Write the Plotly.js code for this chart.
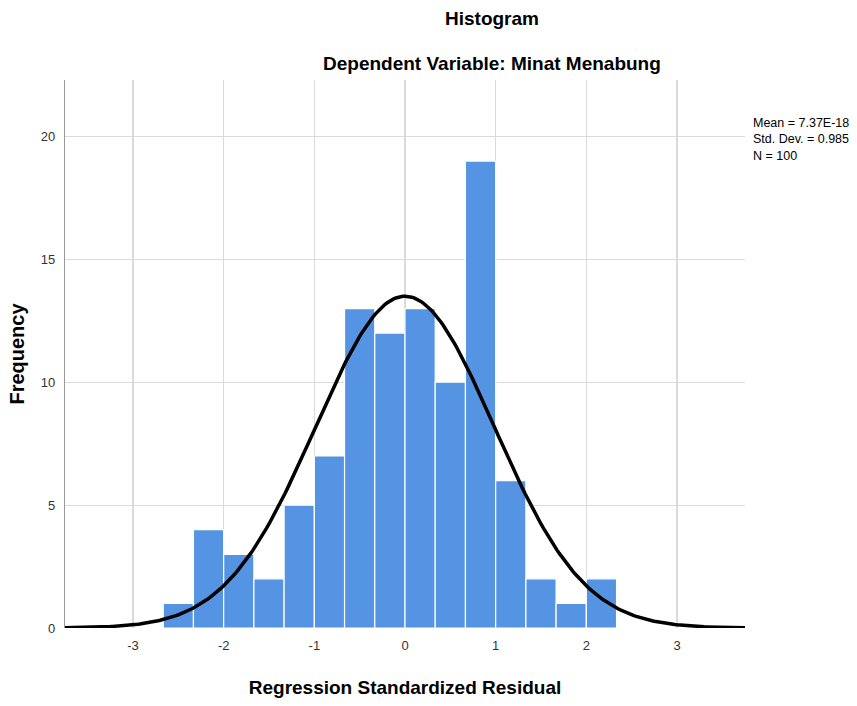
<!DOCTYPE html>
<html><head><meta charset="utf-8">
<script src="https://cdn.plot.ly/plotly-3.0.1.min.js"></script>
<style>html,body{margin:0;padding:0;background:#fff}#chart{width:857px;height:706px}</style>
</head><body><div id="chart"></div>
<script>
// Histogram bins (Regression Standardized Residual), bin width 1/3
var binStart = -8/3;
var binWidth = 1/3;
var frequencies = [1, 4, 3, 2, 5, 7, 13, 12, 13, 10, 19, 6, 2, 1, 2];
// Summary statistics shown in the chart
var meanValue = 7.37e-18;
var stdDev = 0.985;
var nCount = 100;
var xTicks = [-3, -2, -1, 0, 1, 2, 3];
var yTicks = [0, 5, 10, 15, 20];

var binCenters = frequencies.map(function(_, i){ return binStart + binWidth*(i+0.5); });

// Normal density curve scaled to counts, defined by the stated mean / SD / N
var curveX = [], curveY = [];
for (var k = 0; k <= 300; k++) {
  var x = -3.75 + 7.5*k/300;
  var z = (x - meanValue)/stdDev;
  curveX.push(x);
  curveY.push(nCount*binWidth*Math.exp(-0.5*z*z)/(stdDev*Math.sqrt(2*Math.PI)));
}

var traces = [
  {type:'bar', x:binCenters, y:frequencies, width:binWidth,
   marker:{color:'#5594E3', line:{color:'#ffffff', width:1.2}}, hoverinfo:'x+y'},
  {type:'scatter', mode:'lines', x:curveX, y:curveY,
   line:{color:'#000000', width:3.5}, hoverinfo:'skip', cliponaxis:false}
];

var font = 'Liberation Sans, Arial, sans-serif';
var layout = {
  width:857, height:706,
  margin:{l:65, r:112, t:80, b:78},
  paper_bgcolor:'#ffffff', plot_bgcolor:'#ffffff',
  showlegend:false, bargap:0,
  font:{family:font, color:'#333333'},
  xaxis:{range:[-3.75, 3.75], tickvals:xTicks, ticktext:xTicks.map(String),
    showgrid:true, gridcolor:'#dadada', gridwidth:1.2, zeroline:false,
    showline:false, ticks:'', tickfont:{size:13, color:'#333333'},
    ticklabelstandoff:8,
    title:{text:'<b>Regression Standardized Residual</b>', font:{size:19, color:'#000000'}, standoff:28}},
  yaxis:{range:[0, 22.3], tickvals:yTicks, ticktext:yTicks.map(String),
    showgrid:true, gridcolor:'#dadada', gridwidth:1.2, zeroline:false,
    showline:true, linecolor:'#999999', linewidth:1.2, ticks:'',
    tickfont:{size:13, color:'#333333'}, ticklabelstandoff:6,
    title:{text:'<b>Frequency</b>', font:{size:20, color:'#000000'}, standoff:10}},
  annotations:[
    {xref:'paper', yref:'paper', x:0.628, y:1, yshift:62, xanchor:'center', yanchor:'middle', showarrow:false,
     text:'<b>Histogram</b>', font:{family:font, size:19, color:'#000000'}},
    {xref:'paper', yref:'paper', x:0.628, y:1, yshift:17, xanchor:'center', yanchor:'middle', showarrow:false,
     text:'<b>Dependent Variable: Minat Menabung</b>', font:{family:font, size:19, color:'#000000'}},
    {xref:'paper', yref:'paper', x:1, y:1, xshift:6, yshift:-34, xanchor:'left', yanchor:'top', showarrow:false, align:'left',
     text:'Mean = 7.37E-18<br>Std. Dev. = 0.985<br>N = ' + nCount, font:{family:font, size:12.5, color:'#000000'}}
  ]
};
Plotly.newPlot('chart', traces, layout, {displayModeBar:false, staticPlot:true});
</script></body></html>
